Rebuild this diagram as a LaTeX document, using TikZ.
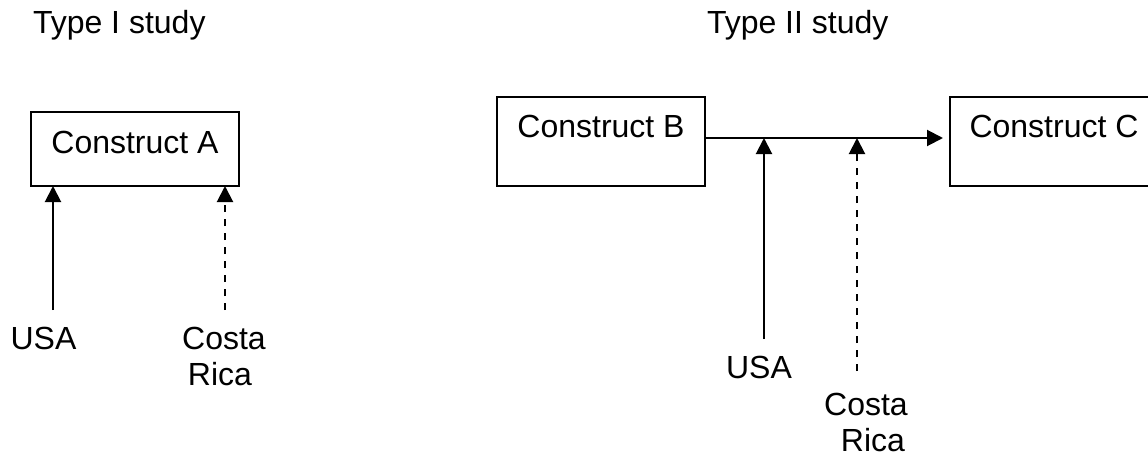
\documentclass[tikz,border=0pt]{standalone}
\usepackage{fontspec}
\setmainfont{Liberation Sans}
\usetikzlibrary{arrows.meta}
\begin{document}
\begin{tikzpicture}[x=0.5pt,y=-0.5pt,
  every node/.style={font=\fontsize{16}{19}\selectfont, inner sep=0pt, outer sep=0pt},
  box/.style={draw, line width=1pt, minimum width=104pt},
  lbl/.style={anchor=base},
  link/.style={line width=1pt, -{Triangle[length=8pt,width=8pt]}},
  alt/.style={link, dash pattern=on 3.5pt off 3.5pt}]
\useasboundingbox (0,0) rectangle (1148,455);
\clip (0,0) rectangle (1148,455);

% titles
\node[anchor=base west] (t1) at (33,33) {Type I study};
\node[anchor=base west] (t2) at (707,33) {Type II study};

% construct boxes
\node[box, minimum height=37pt]   (A) at (135,149)   {};
\node[box, minimum height=44.5pt] (B) at (601,141.5) {};
\node[box, minimum height=44.5pt] (C) at (1054,141.5) {};
\node[lbl] (At) at (135,153)  {Construct A};
\node[lbl] (Bt) at (601,137)  {Construct B};
\node[lbl] (Ct) at (1054,137) {Construct C};

% country labels, type I
\node[lbl] (usaA)  at (43.5,349) {USA};
\node[lbl] (crA1)  at (224,349)  {Costa};
\node[lbl] (crA2)  at (220,385)  {Rica};

% country labels, type II
\node[lbl] (usaB)  at (759,378)  {USA};
\node[lbl] (crB1)  at (866,415)  {Costa};
\node[lbl] (crB2)  at (873,451)  {Rica};

% type I connectors
\coordinate (pA) at (53,310);
\coordinate (qA) at (225,310);
\draw[link] (pA) -- (pA |- A.south);
\draw[alt]  (qA) -- (qA |- A.south);

% type II connectors
\coordinate (j)  at (705,138);
\coordinate (pB) at (764,339);
\coordinate (qB) at (857,371);
\draw[link, shorten >=3.5pt] (j) -- (j -| C.west);
\draw[link] (pB) -- (pB |- j);
\draw[alt]  (qB) -- (qB |- j);
\end{tikzpicture}
\end{document}
